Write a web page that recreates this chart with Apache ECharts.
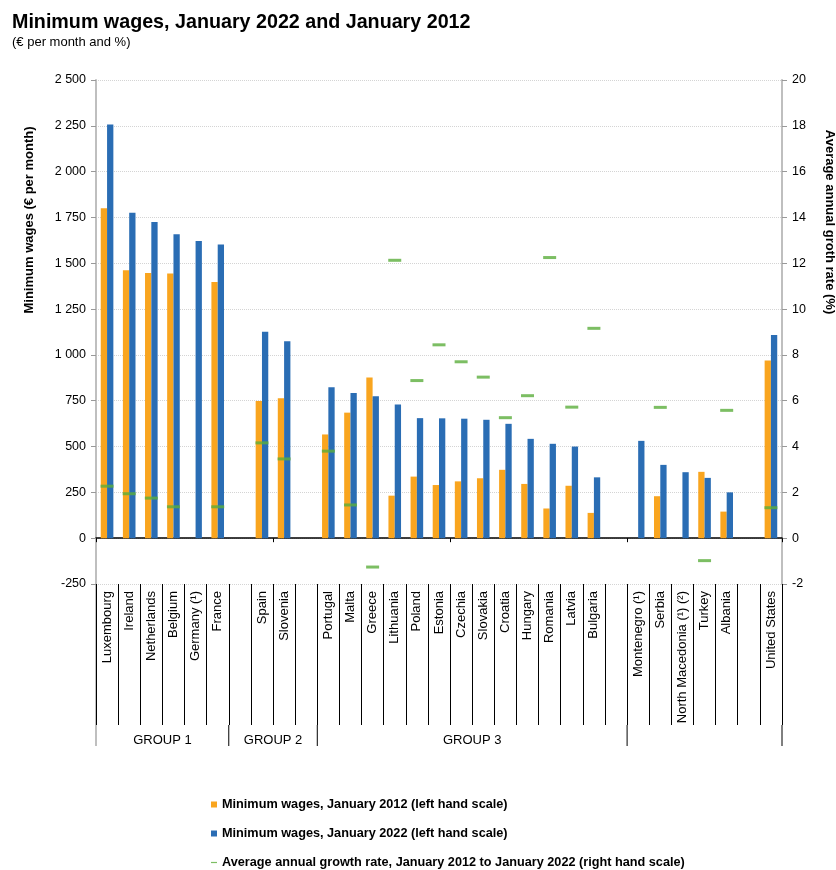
<!DOCTYPE html>
<html>
<head>
<meta charset="utf-8">
<script src="https://cdn.jsdelivr.net/npm/echarts@6/dist/echarts.min.js"></script>
<style>html,body{margin:0;padding:0;background:#fff;overflow:hidden}#main{width:836px;height:870px}</style>
</head>
<body>
<div id="main"></div>
<script>
const categories = ['Luxembourg','Ireland','Netherlands','Belgium','Germany (\u00b9)','France','',
  'Spain','Slovenia',' ',
  'Portugal','Malta','Greece','Lithuania','Poland','Estonia','Czechia','Slovakia','Croatia','Hungary','Romania','Latvia','Bulgaria','  ',
  'Montenegro (\u00b9)','Serbia','North Macedonia (\u00b9) (\u00b2)','Turkey','Albania','   ','United States'];
const wages2012 = [1800,1462,1447,1444,null,1398,null,748,763,null,566,685,877,232,336,290,310,327,373,296,162,286,138,null,null,229,null,362,145,null,970];
const wages2022 = [2257,1775,1725,1658,1621,1603,null,1126,1074,null,823,792,774,730,655,654,652,646,624,542,515,500,332,null,531,400,360,329,250,null,1108];
const growth = [2.27,1.94,1.75,1.37,null,1.37,null,4.16,3.46,null,3.8,1.45,-1.26,12.13,6.88,8.44,7.7,7.03,5.26,6.22,12.25,5.72,9.16,null,null,5.71,null,-0.98,5.58,null,1.33];
const groupNames = ['GROUP 1','GROUP 2','GROUP 3',''];
const groupSizes = [6,4,14,7];
const leftTicks = {min:-250,max:2500,interval:250};
const rightTicks = {min:-2,max:20,interval:2};
const seriesNames = ['Minimum wages, January 2012 (left hand scale)','Minimum wages, January 2022 (left hand scale)','Average annual growth rate, January 2012 to January 2022 (right hand scale)'];

const FONT = 'Liberation Sans, Arial, sans-serif';
const chart = echarts.init(document.getElementById('main'), null, {renderer:'canvas'});
const fmt = v => String(v).replace(/\B(?=(\d{3})+(?!\d))/g,' ');

const option = {
  backgroundColor:'#fff',
  animation:false,
  textStyle:{fontFamily:FONT},
  title:{
    text:'Minimum wages, January 2022 and January 2012',
    subtext:'(\u20ac per month and %)',
    left:12, top:13, itemGap:3, padding:0,
    textStyle:{fontFamily:FONT,fontSize:19.7,fontWeight:'bold',color:'#000'},
    subtextStyle:{fontFamily:FONT,fontSize:13,color:'#000'}
  },
  grid:{left:96,right:54,top:80,bottom:286,containLabel:false,outerBoundsMode:'none'},
  legend:{
    orient:'vertical', left:211, top:798, itemGap:16, itemWidth:6, itemHeight:6, padding:0,
    textStyle:{fontFamily:FONT,fontSize:12.7,fontWeight:'bold',color:'#000'},
    data:[
      {name:seriesNames[0],icon:'rect'},
      {name:seriesNames[1],icon:'rect'},
      {name:seriesNames[2],icon:'path://M0,0L10,0L10,2L0,2Z'}
    ]
  },
  xAxis:[
    {type:'category',data:categories,gridIndex:0,
     axisLine:{onZero:true,onZeroAxisIndex:0,lineStyle:{color:'#000',width:1.5}},
     axisTick:{show:true,inside:false,length:4,lineStyle:{color:'#000'}},
     axisLabel:{show:false},splitLine:{show:false}},
    {type:'category',data:categories,gridIndex:0,position:'bottom',
     axisLine:{show:false,onZero:false},
     axisTick:{show:true,inside:false,length:141,lineStyle:{color:'#000',width:1}},
     axisLabel:{show:true,rotate:90,margin:7,interval:0,fontFamily:FONT,fontSize:13,color:'#000'},
     splitLine:{show:false}}
  ],
  yAxis:[
    {type:'value',min:leftTicks.min,max:leftTicks.max,interval:leftTicks.interval,
     name:'Minimum wages (\u20ac per month)',nameLocation:'middle',nameGap:60,nameRotate:90,
     nameTextStyle:{fontFamily:FONT,fontSize:13,fontWeight:'bold',color:'#000',padding:[0,0,0,224]},
     axisLine:{show:true,lineStyle:{color:'#bfbfbf',width:2}},
     axisTick:{show:true,inside:false,length:5,lineStyle:{color:'#999'}},
     axisLabel:{formatter:fmt,margin:10,fontFamily:FONT,fontSize:12.5,color:'#000'},
     splitLine:{show:true,lineStyle:{color:'#d4d4d4',type:'dotted',width:1}}},
    {type:'value',min:rightTicks.min,max:rightTicks.max,interval:rightTicks.interval,position:'right',
     name:'Average annual groth rate (%)',nameLocation:'middle',nameGap:41,nameRotate:-90,
     nameTextStyle:{fontFamily:FONT,fontSize:13,fontWeight:'bold',color:'#000',padding:[0,220,0,0]},
     axisLine:{show:true,lineStyle:{color:'#bfbfbf',width:2}},
     axisTick:{show:true,inside:false,length:5,lineStyle:{color:'#999'}},
     axisLabel:{margin:10,fontFamily:FONT,fontSize:12.5,color:'#000'},
     splitLine:{show:false}}
  ],
  series:[
    {name:seriesNames[0],type:'bar',xAxisIndex:0,yAxisIndex:0,data:wages2012,barWidth:6.3,barGap:'0%',
     itemStyle:{color:'#F9A51F'}},
    {name:seriesNames[1],type:'bar',xAxisIndex:0,yAxisIndex:0,data:wages2022,barWidth:6.3,barGap:'0%',
     itemStyle:{color:'#2A6DB4'}},
    {name:seriesNames[2],type:'scatter',xAxisIndex:0,yAxisIndex:1,data:growth,symbol:'rect',symbolSize:[13,3],
     itemStyle:{color:'#5BAE3C'},z:5}
  ]
};
chart.setOption(option);

// group separator lines and labels, positioned through the axis scales
const x0 = chart.convertToPixel({xAxisIndex:0},0);
const x1 = chart.convertToPixel({xAxisIndex:0},1);
const bw = x1 - x0;
const yTop = chart.convertToPixel({yAxisIndex:0},leftTicks.min);
const elements = [];
let start = 0;
const bounds = [x0 - bw/2];
groupSizes.forEach((n,i)=>{
  const end = start + n - 1;
  const xe = chart.convertToPixel({xAxisIndex:0},end) + bw/2;
  bounds.push(xe);
  const xs = chart.convertToPixel({xAxisIndex:0},start) - bw/2;
  if (groupNames[i]) {
    elements.push({type:'text',x:(xs+xe)/2,y:yTop+156,
      style:{text:groupNames[i],fill:'#000',font:'13px '+FONT,align:'center',verticalAlign:'middle'}});
  }
  start += n;
});
bounds.forEach((b,i)=>{
  elements.push({type:'line',shape:{x1:b,y1:(i===0?yTop:yTop+141),x2:b,y2:yTop+162},
    style:{stroke:i===0?'#bfbfbf':'#000',lineWidth:i===0?2:1}});
});
chart.setOption({graphic:{elements:elements}});
</script>
</body>
</html>
